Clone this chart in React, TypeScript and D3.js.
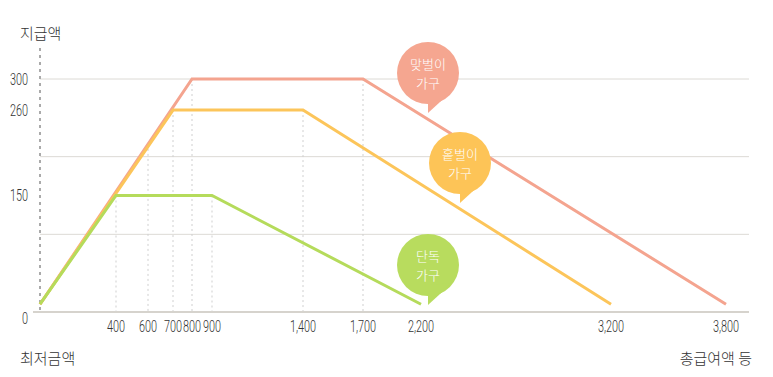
import React from "react";
import * as d3 from "d3";

const xTickValues = [400, 600, 700, 800, 900, 1400, 1700, 2200, 3200, 3800];
const yTickValues = [0, 150, 260, 300];
const gridValues = [100, 200, 300];

const seriesNames = ["맞벌이 가구", "홑벌이 가구", "단독 가구"];
const dualIncome = [
  { x: 0, y: 10 },
  { x: 800, y: 300 },
  { x: 1700, y: 300 },
  { x: 3800, y: 10 },
];
const singleIncome = [
  { x: 0, y: 10 },
  { x: 700, y: 260 },
  { x: 1400, y: 260 },
  { x: 3200, y: 10 },
];
const singlePerson = [
  { x: 0, y: 10 },
  { x: 400, y: 150 },
  { x: 900, y: 150 },
  { x: 2200, y: 10 },
];
const dropValues = [
  { x: 400, y: 150 },
  { x: 600, y: 210 },
  { x: 700, y: 260 },
  { x: 800, y: 300 },
  { x: 900, y: 150 },
  { x: 1400, y: 260 },
  { x: 1700, y: 300 },
];

const colors = ["#f4a48f", "#fcc55a", "#b5db5b"];
const bubbleColors = ["#f5a690", "#fdc457", "#b8dc5e"];
const bubbleLines = [
  ["맞벌이", "가구"],
  ["홑벌이", "가구"],
  ["단독", "가구"],
];
const bubbleCenters = [
  [428, 73],
  [460, 163],
  [428, 265],
];

const W = 773;
const H = 377;
const numFont = "Roboto, 'Liberation Sans', sans-serif";
const krFont = "'Noto Sans CJK KR', 'Noto Sans', sans-serif";

function NumText({ x, y, anchor, children }: { x: number; y: number; anchor: string; children: React.ReactNode }) {
  return (
    <text
      transform={`translate(${x},${y}) scale(0.68,1)`}
      textAnchor={anchor}
      dominantBaseline="central"
      fontFamily={numFont}
      fontSize={16}
      fontWeight={300}
      fill="#333"
    >
      {children}
    </text>
  );
}

export default function App() {
  const x = d3
    .scaleLinear()
    .domain([0, 400, 600, 700, 800, 900, 1400, 1700, 2200, 3200, 3800])
    .range([40, 116, 148, 173, 192, 212, 303, 363, 421, 611, 726]);
  const y = d3.scaleLinear().domain([0, 300]).range([312, 79]);

  const line = d3
    .line<{ x: number; y: number }>()
    .x((d) => x(d.x))
    .y((d) => y(d.y));

  const series = [dualIncome, singleIncome, singlePerson];

  return (
    <svg width={W} height={H} style={{ position: "absolute", left: 0, top: 0, background: "#fff" }}>
      {gridValues.map((v) => (
        <line key={v} x1={40} x2={749} y1={y(v)} y2={y(v)} stroke="#dcdad5" strokeWidth={1} />
      ))}
      {dropValues.map((d, i) => (
        <line
          key={i}
          x1={x(d.x)}
          x2={x(d.x)}
          y1={y(d.y)}
          y2={y(0)}
          stroke="#cfcfcf"
          strokeWidth={1}
          strokeDasharray="2,3"
        />
      ))}
      <line x1={40} x2={40} y1={48} y2={312} stroke="#aaaaaa" strokeWidth={2} strokeDasharray="3,4" />
      <line x1={33} x2={749} y1={312} y2={312} stroke="#d6d3cd" strokeWidth={2} />

      {series.map((s, i) => (
        <path key={i} d={line(s) || ""} fill="none" stroke={colors[i]} strokeWidth={3}>
          <title>{seriesNames[i]}</title>
        </path>
      ))}

      {yTickValues.map((v) => (
        <NumText key={v} x={28} y={v === 0 ? y(v) + 6 : y(v)} anchor="end">
          {d3.format(",")(v)}
        </NumText>
      ))}
      {xTickValues.map((v) => (
        <NumText key={v} x={x(v)} y={326} anchor="middle">
          {d3.format(",")(v)}
        </NumText>
      ))}

      <text x={20} y={32} dominantBaseline="central" fontFamily={krFont} fontSize={15} fontWeight={300} fill="#333">
        지급액
      </text>
      <text x={20} y={357} dominantBaseline="central" fontFamily={krFont} fontSize={15} fontWeight={300} fill="#333">
        최저금액
      </text>
      <text
        x={752}
        y={357}
        textAnchor="end"
        dominantBaseline="central"
        fontFamily={krFont}
        fontSize={15}
        fontWeight={300}
        fill="#333"
      >
        총급여액 등
      </text>

      {bubbleCenters.map(([cx, cy], i) => (
        <g key={i}>
          <circle cx={cx} cy={cy} r={31} fill={bubbleColors[i]} />
          <path d={`M${cx},${cy + 20} L${cx},${cy + 40} L${cx + 24},${cy + 18} Z`} fill={bubbleColors[i]} />
          {bubbleLines[i].map((t, j) => (
            <text
              key={j}
              x={cx}
              y={cy - 9.5 + j * 19}
              textAnchor="middle"
              dominantBaseline="central"
              fontFamily={krFont}
              fontSize={13}
              fontWeight={300}
              fill="#fff"
            >
              {t}
            </text>
          ))}
        </g>
      ))}
    </svg>
  );
}
